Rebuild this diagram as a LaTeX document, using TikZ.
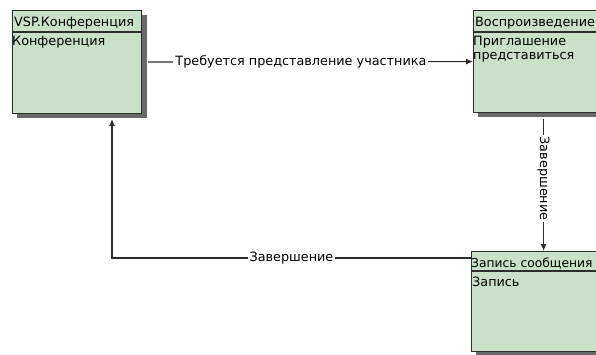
\documentclass[tikz,border=0pt]{standalone}
\usepackage{fontspec}
\setmainfont{DejaVu Sans}
\usetikzlibrary{arrows.meta}
\definecolor{boxgreen}{RGB}{200,225,200}
\definecolor{shadowgray}{RGB}{105,105,105}
\definecolor{edgegray}{RGB}{45,45,45}
\begin{document}
\begin{tikzpicture}[x=1pt,y=-1pt,
  txt/.style={font=\fontsize{12.8}{15}\selectfont, inner sep=0pt, anchor=base west},
  box/.style={draw=edgegray, line width=1.1pt, fill=boxgreen, rectangle, anchor=north west, inner sep=0pt},
  shadow/.style={fill=shadowgray},
  conn/.style={draw=edgegray, line width=1.1pt},
  tip/.style={-{Latex[length=7pt,width=6pt]}},
  lbl/.style={font=\fontsize{12.8}{15}\selectfont, fill=white, inner sep=2pt}]
\useasboundingbox (0,0) rectangle (596,355);
\clip (0,0) rectangle (596,355);
% shadows
\fill[shadow] (17,15) rectangle (147,118);
\fill[shadow] (478,15) rectangle (620,117);
\fill[shadow] (476,256) rectangle (620,356);
% boxes
\node[box, minimum width=129pt, minimum height=103pt] (b1) at (12,10) {};
\node[box, minimum width=140pt, minimum height=102pt] (b2) at (473,10) {};
\node[box, minimum width=144pt, minimum height=100pt] (b3) at (471,251) {};
\draw[conn] (b1.north west) ++(0,22) -- ++(129,0);
\draw[conn] (b2.north west) ++(0,22) -- ++(140,0);
\draw[conn] (b3.north west) ++(0,20) -- ++(144,0);
% texts
\node[txt] (t1h) at (14,27) {VSP.Конференция};
\node[txt] (t1b) at (12,46) {Конференция};
\node[txt] (t2h) at (475,27) {Воспроизведение};
\node[txt] (t2b) at (473,46) {Приглашение};
\node[txt] (t2c) at (473,60) {представиться};
\node[txt, font=\fontsize{12.3}{15}\selectfont] (t3h) at (471,267) {Запись сообщения};
\node[txt] (t3b) at (472,286) {Запись};
% connectors
\draw[conn, tip, shorten <=6pt] (b1.east) -- node[lbl, pos=0.48] {Требуется представление участника} (b2.west);
\draw[conn, tip, shorten <=6pt] (b2.south) -- node[lbl, rotate=-90, pos=0.475] {Завершение} (b3.north);
\coordinate (c3) at (112,258);
\draw[conn, tip, shorten >=5pt] (b3.west |- c3) -- node[lbl, pos=0.5] {Завершение} (c3) -- (c3 |- b1.south);
\end{tikzpicture}
\end{document}
